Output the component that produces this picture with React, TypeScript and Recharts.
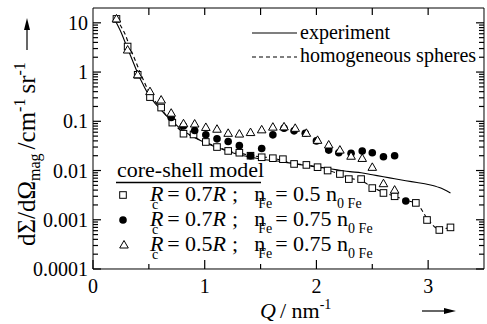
import React from 'react';
import { ComposedChart, Line, Scatter, XAxis, YAxis, ReferenceLine } from 'recharts';

// experiment (solid line)
const expQ = [0.2, 0.25, 0.3, 0.35, 0.4, 0.45, 0.5, 0.55, 0.6, 0.65, 0.7, 0.8, 0.9, 1.0, 1.1, 1.2, 1.3, 1.4, 1.5, 1.6, 1.7, 1.8, 1.9, 2.0, 2.1, 2.2, 2.3, 2.4, 2.5, 2.6, 2.7, 2.8, 2.9, 3.0, 3.1, 3.2];
const expI = [11, 6.5, 3.4, 1.8, 0.95, 0.55, 0.34, 0.24, 0.18, 0.135, 0.105, 0.066, 0.048, 0.037, 0.03, 0.025, 0.021, 0.019, 0.017, 0.016, 0.015, 0.0138, 0.0128, 0.012, 0.011, 0.0102, 0.0095, 0.009, 0.0082, 0.0075, 0.0068, 0.0062, 0.0057, 0.0052, 0.0045, 0.0035];

// homogeneous spheres (dashed line)
const homQ = [0.21, 0.25, 0.29, 0.33, 0.375, 0.45, 0.5, 0.6, 0.7, 0.8, 0.9, 1.0, 1.1, 1.2, 1.3, 1.4, 1.5, 1.6, 1.7, 1.8, 1.9, 2.0, 2.1, 2.2, 2.3, 2.4, 2.5, 2.6, 2.7, 2.8, 2.9, 3.0, 3.1, 3.2];
const homI = [12, 8.5, 5.7, 3.2, 1.8, 0.7, 0.4, 0.19, 0.1, 0.062, 0.048, 0.038, 0.031, 0.026, 0.023, 0.0205, 0.019, 0.018, 0.016, 0.0138, 0.013, 0.0118, 0.0102, 0.0086, 0.007, 0.0062, 0.0046, 0.0036, 0.003, 0.0025, 0.0021, 0.001, 0.00064, 0.0007];

// core-shell Rc = 0.7R, nFe = 0.5 n0Fe (open squares)
const sqQ = [0.21, 0.31, 0.4, 0.51, 0.61, 0.71, 0.81, 0.9, 1.01, 1.11, 1.21, 1.31, 1.41, 1.51, 1.61, 1.7, 1.8, 1.91, 2.01, 2.1, 2.21, 2.29, 2.4, 2.5, 2.6, 2.7, 2.89, 2.99, 3.1, 3.2];
const sqI = [12, 3.3, 0.88, 0.31, 0.19, 0.094, 0.056, 0.054, 0.038, 0.03, 0.025, 0.023, 0.02, 0.0186, 0.0178, 0.017, 0.0136, 0.013, 0.0117, 0.01, 0.0085, 0.0067, 0.0067, 0.0044, 0.0035, 0.003, 0.0022, 0.00099, 0.00062, 0.0007];

// core-shell Rc = 0.7R, nFe = 0.75 n0Fe (filled circles)
const ciQ = [0.7, 0.81, 0.91, 1.01, 1.11, 1.21, 1.31, 1.41, 1.51, 1.61, 1.71, 1.8, 1.9, 2.0, 2.11, 2.2, 2.31, 2.41, 2.5, 2.6, 2.7, 2.8];
const ciI = [0.12, 0.08, 0.065, 0.053, 0.044, 0.039, 0.032, 0.02, 0.028, 0.053, 0.072, 0.064, 0.057, 0.04, 0.026, 0.023, 0.0224, 0.025, 0.023, 0.019, 0.02, 0.0024];

// core-shell Rc = 0.5R, nFe = 0.75 n0Fe (open triangles)
const trQ = [0.21, 0.31, 0.4, 0.51, 0.61, 0.7, 0.81, 0.91, 1.01, 1.11, 1.21, 1.31, 1.41, 1.51, 1.61, 1.71, 1.81, 1.91, 2.01, 2.11, 2.21, 2.31, 2.41, 2.5, 2.6, 2.7];
const trI = [12, 2.8, 0.88, 0.4, 0.27, 0.146, 0.089, 0.088, 0.075, 0.069, 0.057, 0.055, 0.059, 0.067, 0.076, 0.077, 0.072, 0.057, 0.041, 0.033, 0.026, 0.0195, 0.0176, 0.0116, 0.0054, 0.004];

const xMajor = [0, 1, 2, 3];
const xMinor = [0.5, 1.5, 2.5];
const xTop = [0.5, 1, 1.5, 2, 2.5, 3];
const yMajor = [0.0001, 0.001, 0.01, 0.1, 1, 10];
const yMinor: number[] = [];
yMajor.forEach((d) => {
  [2, 3, 4, 5, 6, 7, 8, 9].forEach((m) => {
    const v = +(m * d).toPrecision(3);
    if (v < 20) yMinor.push(v);
  });
});

const pts = (q: number[], v: number[]) => q.map((x, i) => ({ q: x, v: v[i] }));

const FONT = '"Liberation Serif", "Times New Roman", serif';
const W = 487;
const H = 324;
const M = { top: 8, right: 3, bottom: 55, left: 93 };
const THIN = 0.001; // axes need a non-zero size to be drawn
const X_DOM: [number, number] = [0, 3.5];
const Y_DOM: [number, number] = [0.0001, 20];

// tick lengths in data units (x: ~112 px per unit, y: ~49 px per decade)
const xLen = (px: number) => px / 111.7;
const yFac = (px: number) => Math.pow(10, px / 49.24);

type Seg = { key: string; seg: { x: number; y: number }[] };
const tickSegs: Seg[] = [];
[...yMajor, ...yMinor].forEach((v) => {
  const len = xLen(yMajor.includes(v) ? 8 : 5);
  tickSegs.push({ key: `l${v}`, seg: [{ x: X_DOM[0], y: v }, { x: X_DOM[0] + len, y: v }] });
  tickSegs.push({ key: `r${v}`, seg: [{ x: X_DOM[1], y: v }, { x: X_DOM[1] - len, y: v }] });
});
[...xMajor, ...xMinor].forEach((q) => {
  const f = yFac(xMajor.includes(q) ? 9 : 5);
  tickSegs.push({ key: `b${q}`, seg: [{ x: q, y: Y_DOM[0] }, { x: q, y: Y_DOM[0] * f }] });
});
xTop.forEach((q) => {
  tickSegs.push({ key: `t${q}`, seg: [{ x: q, y: Y_DOM[1] }, { x: q, y: Y_DOM[1] / yFac(7) }] });
});

const LeftTick = (p: any) => {
  const v = p.payload.value;
  if (!yMajor.includes(v)) return <g />;
  return (
    <text x={M.left - 5} y={p.payload.coordinate} dy="0.35em" textAnchor="end" fontSize={20} fontFamily={FONT} fill="#000">
      {String(v)}
    </text>
  );
};
const BottomTick = (p: any) => (
  <text x={p.payload.coordinate} y={H - M.bottom + 24} textAnchor="middle" fontSize={20} fontFamily={FONT} fill="#000">
    {String(p.payload.value)}
  </text>
);

const Square = (p: any) => (
  <rect x={p.cx - 3.3} y={p.cy - 3.3} width={6.6} height={6.6} fill="#fff" stroke="#000" strokeWidth={1} />
);
const Dot = (p: any) => <circle cx={p.cx} cy={p.cy} r={3.8} fill="#000" />;
const Tri = (p: any) => (
  <polygon
    points={`${p.cx},${p.cy - 4.5} ${p.cx - 4.3},${p.cy + 3} ${p.cx + 4.3},${p.cy + 3}`}
    fill="#fff"
    stroke="#000"
    strokeWidth={1}
  />
);

const LegendRow = ({ y, rc, nfe }: { y: number; rc: string; nfe: string }) => (
  <text x={150} y={y} fontSize={22} fontFamily={FONT}>
    <tspan fontStyle="italic">R</tspan>
    <tspan fontSize={14} dx={-11.5} dy={8}>c</tspan>
    <tspan dx={9} dy={-8}>= {rc}</tspan>
    <tspan fontStyle="italic">R</tspan>
    <tspan dx={6}>;</tspan>
    <tspan dx={16}>n</tspan>
    <tspan fontSize={14} dx={-7} dy={7}>Fe</tspan>
    <tspan dx={3} dy={-7}>= {nfe} n</tspan>
    <tspan fontSize={14} dy={7}>0 Fe</tspan>
  </text>
);

export default function App() {
  return (
    <div style={{ position: 'absolute', left: 0, top: 0, width: W, height: H, background: '#fff', fontFamily: FONT }}>
      <ComposedChart width={W} height={H} margin={M}>
        <XAxis xAxisId="x" dataKey="q" type="number" domain={X_DOM} allowDataOverflow
          ticks={xMajor} interval={0} height={THIN} stroke="#000" tickLine={false} tick={BottomTick} />
        <XAxis xAxisId="xt" orientation="top" type="number" domain={X_DOM} allowDataOverflow
          ticks={xTop} interval={0} height={THIN} stroke="#000" tickLine={false} tick={false} />
        <YAxis yAxisId="y" dataKey="v" scale="log" type="number" domain={Y_DOM} allowDataOverflow
          ticks={yMajor} interval={0} width={THIN} stroke="#000" tickLine={false} tick={LeftTick} />
        <YAxis yAxisId="yr" orientation="right" scale="log" type="number" domain={Y_DOM} allowDataOverflow
          ticks={yMajor} interval={0} width={THIN} stroke="#000" tickLine={false} tick={false} />

        {tickSegs.map((t) => (
          <ReferenceLine key={t.key} xAxisId="x" yAxisId="y" segment={t.seg} ifOverflow="visible"
            stroke="#000" strokeWidth={1.2} />
        ))}

        <Line xAxisId="x" yAxisId="y" data={pts(expQ, expI)} dataKey="v" type="monotone" stroke="#000" strokeWidth={1.1}
          dot={false} isAnimationActive={false} />
        <Line xAxisId="x" yAxisId="y" data={pts(homQ, homI)} dataKey="v" type="monotone" stroke="#000" strokeWidth={1.1}
          strokeDasharray="4 3" dot={false} isAnimationActive={false} />
        <Scatter xAxisId="x" yAxisId="y" data={pts(sqQ, sqI)} dataKey="v" shape={Square} isAnimationActive={false} />
        <Scatter xAxisId="x" yAxisId="y" data={pts(ciQ, ciI)} dataKey="v" shape={Dot} isAnimationActive={false} />
        <Scatter xAxisId="x" yAxisId="y" data={pts(trQ, trI)} dataKey="v" shape={Tri} isAnimationActive={false} />
      </ComposedChart>

      <svg width={W} height={H} style={{ position: 'absolute', left: 0, top: 0, pointerEvents: 'none' }} fontFamily={FONT}>
        {/* y axis title */}
        <text transform="translate(35,246) rotate(-90)" fontSize={25}>
          dΣ/dΩ
          <tspan fontSize={16} dy={5}>mag</tspan>
          <tspan dy={-5} dx={4}>/cm</tspan>
          <tspan fontSize={16} dy={-10}>-1</tspan>
          <tspan dy={10} dx={5}>sr</tspan>
          <tspan fontSize={16} dy={-10}>-1</tspan>
        </text>
        <line x1={27} y1={50} x2={27} y2={28} stroke="#000" strokeWidth={1.2} />
        <polygon points="27,18 24,30 30,30" fill="#000" />

        {/* x axis title */}
        <text x={260} y={318} fontSize={22}>
          <tspan fontStyle="italic">Q</tspan>
          <tspan dx={4}>/ nm</tspan>
          <tspan fontSize={14} dy={-9}>-1</tspan>
        </text>
        <line x1={422} y1={311} x2={446} y2={311} stroke="#000" strokeWidth={1.2} />
        <polygon points="456,311 444,308 444,314" fill="#000" />

        {/* legend: lines */}
        <line x1={252} y1={33} x2={297} y2={33} stroke="#000" strokeWidth={1.1} />
        <text x={300} y={38.5} fontSize={20}>experiment</text>
        <line x1={252} y1={57} x2={297} y2={57} stroke="#000" strokeWidth={1.1} strokeDasharray="4 3" />
        <text x={300} y={62} fontSize={20}>homogeneous spheres</text>

        {/* legend: core-shell model */}
        <text x={117} y={177} fontSize={22}>core-shell model</text>
        <line x1={116} y1={182.5} x2={261} y2={182.5} stroke="#000" strokeWidth={1.5} />
        <Square cx={123} cy={195} />
        <Dot cx={123} cy={220} />
        <Tri cx={124} cy={245} />
        <LegendRow y={201} rc="0.7" nfe="0.5" />
        <LegendRow y={226} rc="0.7" nfe="0.75" />
        <LegendRow y={251} rc="0.5" nfe="0.75" />
      </svg>
    </div>
  );
}
